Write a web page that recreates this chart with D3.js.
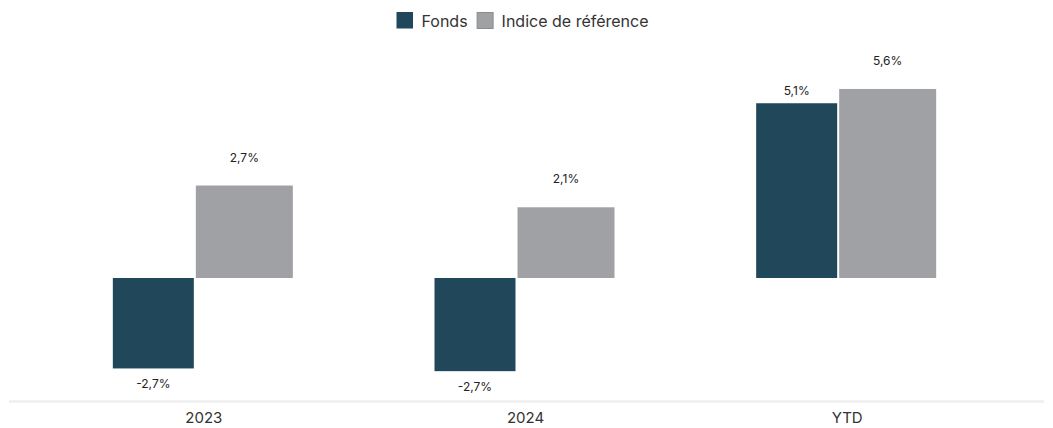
<!DOCTYPE html>
<html>
<head>
<meta charset="utf-8">
<script src="https://cdn.jsdelivr.net/npm/d3@7"></script>
<style>
  html, body { margin: 0; padding: 0; background: #fff; }
  svg { display: block; font-family: Inter, "Noto Sans", sans-serif; }
</style>
</head>
<body>
<svg id="chart" width="1053" height="428"></svg>
<script>
const categories = ["2023", "2024", "YTD"];
const seriesNames = ["Fonds", "Indice de référence"];
const fondsValues = [-2.66, -2.74, 5.14];
const indexValues = [2.72, 2.08, 5.56];
const fondsLabels = ["-2,7%", "-2,7%", "5,1%"];
const indexLabels = ["2,7%", "2,1%", "5,6%"];
const colors = ["#21485a", "#a0a1a5"];

const svg = d3.select("#chart");

const x0 = d3.scaleBand().domain(categories).range([43, 1008]).padding(0);
const y = d3.scaleLinear().domain([-3, 6]).range([380, 74]);

// series geometry (offset from group centre, width, label gap)
const seriesGeom = [
  { off: -91, w: 81, gapPos: 8, gapNeg: 19.5 },
  { off: -8, w: 97, gapPos: 24, gapNeg: 35 }
];
const seriesData = [
  categories.map((c, i) => ({ cat: c, v: fondsValues[i], label: fondsLabels[i] })),
  categories.map((c, i) => ({ cat: c, v: indexValues[i], label: indexLabels[i] }))
];

// x axis baseline
svg.append("line")
  .attr("x1", 9).attr("x2", 1044)
  .attr("y1", 401.5).attr("y2", 401.5)
  .attr("stroke", "#efefef").attr("stroke-width", 2.5);

const xAxis = svg.append("g").attr("transform", "translate(0,401)")
  .call(d3.axisBottom(x0).tickSize(0).tickPadding(11));
xAxis.select(".domain").remove();
xAxis.selectAll("text")
  .attr("font-size", 15).attr("fill", "#333")
  .attr("font-family", "Inter, 'Noto Sans', sans-serif");

seriesData.forEach((data, s) => {
  const g = seriesGeom[s];
  const grp = svg.append("g");
  grp.selectAll("rect").data(data).join("rect")
    .attr("x", d => x0(d.cat) + x0.bandwidth() / 2 + g.off)
    .attr("width", g.w)
    .attr("y", d => y(Math.max(0, d.v)))
    .attr("height", d => Math.abs(y(d.v) - y(0)))
    .attr("fill", colors[s]);
  grp.selectAll("text").data(data).join("text")
    .attr("x", d => x0(d.cat) + x0.bandwidth() / 2 + g.off + g.w / 2)
    .attr("y", d => d.v >= 0 ? y(d.v) - g.gapPos : y(d.v) + g.gapNeg)
    .attr("text-anchor", "middle")
    .attr("font-size", 12)
    .attr("fill", "#222")
    .text(d => d.label);
});

// legend
const legend = svg.append("g");
let lx = 0;
const items = [];
seriesNames.forEach((name, i) => {
  const it = legend.append("g").attr("transform", `translate(${lx},0)`);
  it.append("rect")
    .attr("x", i === 1 ? 0.5 : 0).attr("y", i === 1 ? 12.5 : 12)
    .attr("width", i === 1 ? 16 : 16.5).attr("height", i === 1 ? 16 : 16.5)
    .attr("fill", colors[i])
    .attr("stroke", i === 1 ? "#8c8c8f" : "none").attr("stroke-width", 1);
  const t = it.append("text")
    .attr("x", 25).attr("y", 26.5)
    .attr("font-size", 16).attr("fill", "#333")
    .text(name);
  const w = t.node().getComputedTextLength();
  lx += 25 + w + 9;
});
const totalW = lx - 9;
legend.attr("transform", `translate(${522.5 - totalW / 2},0)`);
</script>
</body>
</html>
